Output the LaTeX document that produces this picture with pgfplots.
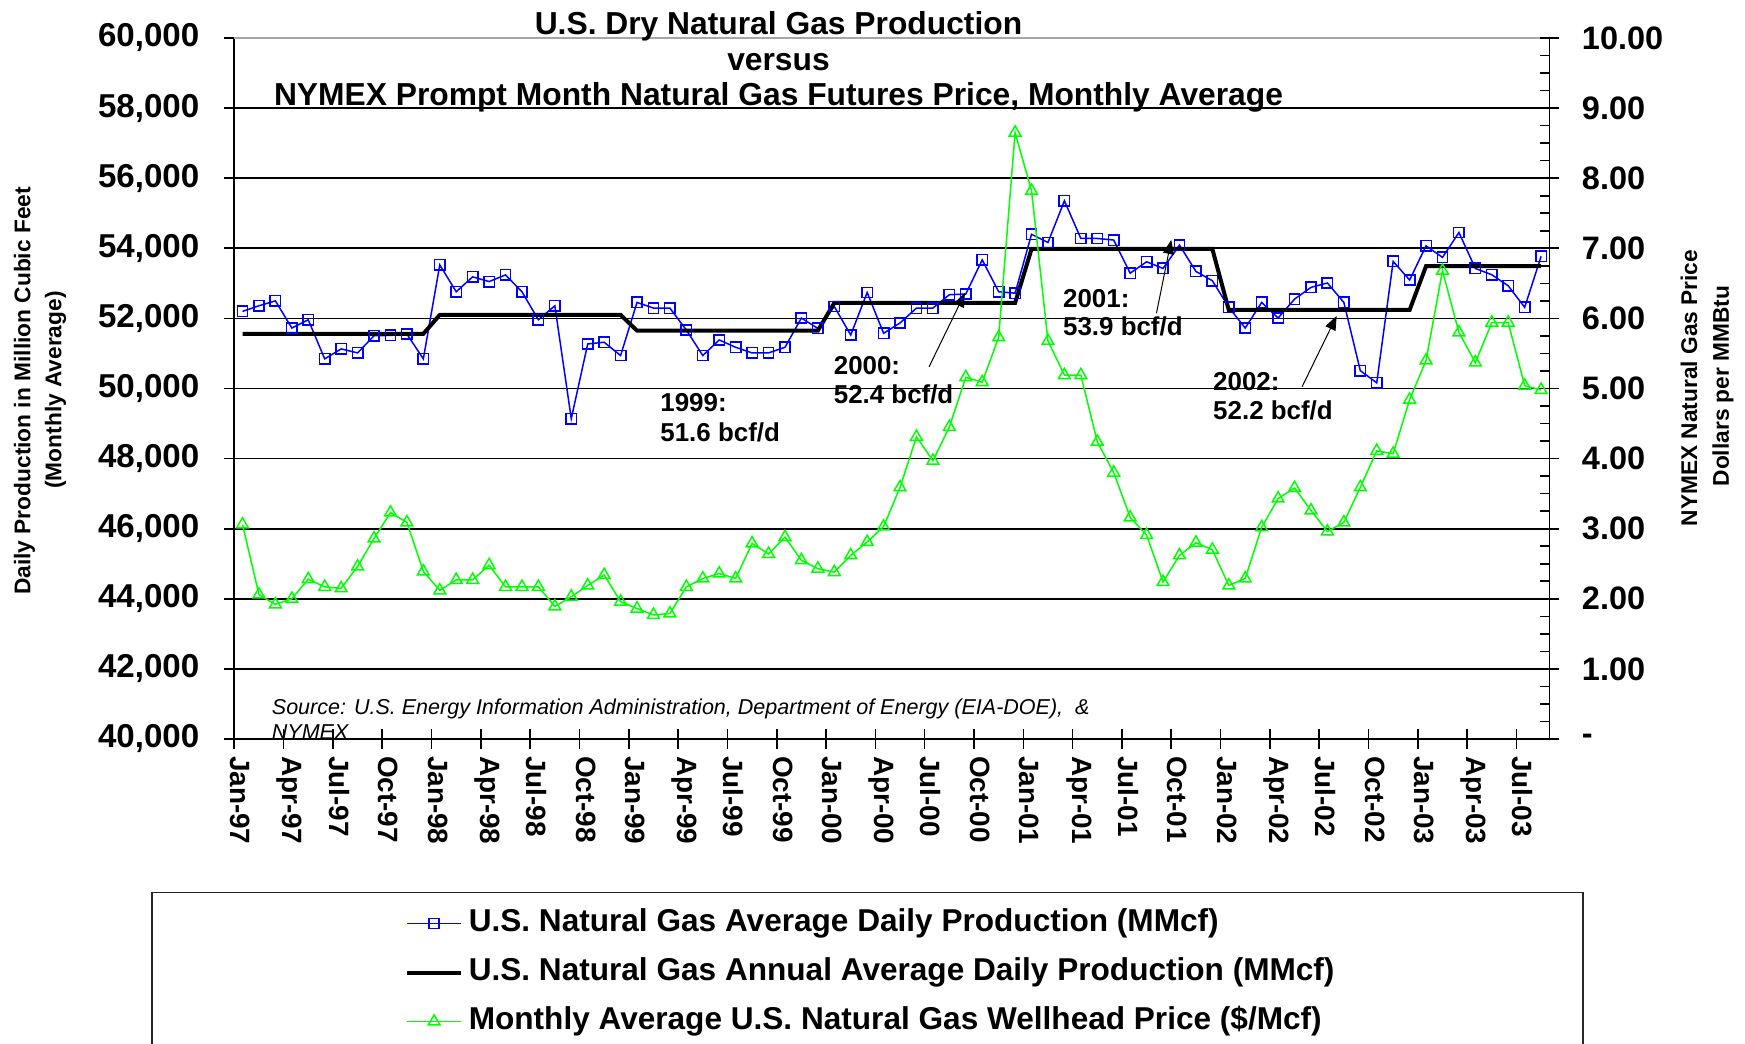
\documentclass[border=0pt]{standalone}
\usepackage{fontspec}
\setmainfont{Liberation Sans}
\usepackage{pgfplots}
\pgfplotsset{compat=1.18}
\usepackage{pgfplotstable}
\usetikzlibrary{arrows.meta}

\pgfplotstableread{
i prod avg price
0 52200 51560 3.06
1 52360 51560 2.06
2 52500 51560 1.92
3 51725 51560 2.00
4 51960 51560 2.28
5 50845 51560 2.17
6 51130 51560 2.15
7 51015 51560 2.46
8 51505 51560 2.86
9 51515 51560 3.23
10 51555 51560 3.09
11 50845 51560 2.39
12 53525 52100 2.12
13 52760 52100 2.27
14 53185 52100 2.27
15 53050 52100 2.48
16 53240 52100 2.17
17 52760 52100 2.17
18 51960 52100 2.17
19 52360 52100 1.89
20 49140 52100 2.03
21 51270 52100 2.19
22 51320 52100 2.34
23 50940 52100 1.96
24 52455 51650 1.86
25 52295 51650 1.77
26 52295 51650 1.79
27 51670 51650 2.17
28 50940 51650 2.29
29 51385 51650 2.36
30 51175 51650 2.29
31 51015 51650 2.79
32 51015 51650 2.64
33 51175 51650 2.88
34 52010 51650 2.55
35 51715 51650 2.43
36 52340 52440 2.38
37 51525 52440 2.62
38 52740 52440 2.81
39 51575 52440 3.03
40 51870 52440 3.59
41 52295 52440 4.31
42 52295 52440 3.97
43 52675 52440 4.45
44 52695 52440 5.16
45 53670 52440 5.09
46 52760 52440 5.73
47 52720 52440 8.65
48 54400 53980 7.82
49 54165 53980 5.68
50 55355 53980 5.19
51 54280 53980 5.19
52 54280 53980 4.24
53 54235 53980 3.80
54 53290 53980 3.16
55 53615 53980 2.91
56 53425 53980 2.24
57 54090 53980 2.62
58 53340 53980 2.80
59 53075 53980 2.70
60 52315 52240 2.19
61 51725 52240 2.29
62 52455 52240 3.02
63 52010 52240 3.43
64 52550 52240 3.58
65 52885 52240 3.26
66 53010 52240 2.96
67 52455 52240 3.09
68 50510 52240 3.59
69 50160 52240 4.11
70 53625 52240 4.07
71 53095 52240 4.84
72 54070 53490 5.40
73 53740 53490 6.68
74 54450 53490 5.80
75 53425 53490 5.37
76 53245 53490 5.94
77 52930 53490 5.94
78 52315 53490 5.04
79 53770 53490 4.98
}\gasdata

\begin{document}
\begin{tikzpicture}
\pgfplotsset{
  legend image code/.code={\draw[mark repeat=2,mark phase=2,#1] plot coordinates {(0bp,0bp) (13.35bp,0bp) (26.7bp,0bp)};},
}
\begin{axis}[
  at={(0,0)}, anchor=south west,
  scale only axis, width=657.5bp, height=350.5bp,
  xmin=-0.5, xmax=79.5, ymin=40000, ymax=60000,
  scaled y ticks=false,
  axis x line*=bottom, axis y line*=left,
  axis line style={black, line width=0.8bp},
  xtick={0,3,...,78},
  xticklabels={Jan-97,Apr-97,Jul-97,Oct-97,Jan-98,Apr-98,Jul-98,Oct-98,Jan-99,Apr-99,Jul-99,Oct-99,Jan-00,Apr-00,Jul-00,Oct-00,Jan-01,Apr-01,Jul-01,Oct-01,Jan-02,Apr-02,Jul-02,Oct-02,Jan-03,Apr-03,Jul-03},
  minor xtick={-0.5,2.5,...,77.5},
  major x tick style={draw=none},
  minor x tick style={black, line width=0.8bp},
  minor tick length=10bp,
  major tick length=10bp,
  tick align=center,
  ytick={40000,42000,...,60000},
  yticklabels={{40,000},{42,000},{44,000},{46,000},{48,000},{50,000},{52,000},{54,000},{56,000},{58,000},{60,000}},
  major y tick style={black, line width=0.8bp},
  ymajorgrids, major grid style={black, line width=0.8bp},
  xticklabel style={rotate=-90, anchor=west, font=\bfseries\fontsize{14}{15}\selectfont, yshift=-1bp},
  yticklabel style={font=\bfseries\fontsize{16.6}{18}\selectfont, xshift=-9bp},
  clip=false,
]
\addplot[blue, line width=0.75bp, mark=square, mark size=2.6bp, mark options={solid, line width=0.75bp}] table[x=i, y=prod] {\gasdata};
\addplot[black, line width=2bp, no marks] table[x=i, y=avg] {\gasdata};
\draw[gray!70, line width=0.8bp] (rel axis cs:0,1) -- (rel axis cs:1,1);
\begin{scope}[font=\bfseries\fontsize{13}{14}\selectfont]
\node[anchor=west, inner sep=0pt] at (axis cs:25.4,49586) {1999:};
\node[anchor=west, inner sep=0pt] at (axis cs:25.4,48759) {51.6 bcf/d};
\node[anchor=west, inner sep=0pt] at (axis cs:35.95,50642) {2000:};
\node[anchor=west, inner sep=0pt] at (axis cs:35.95,49843) {52.4 bcf/d};
\node[anchor=west, inner sep=0pt] at (axis cs:49.9,52573) {2001:};
\node[anchor=west, inner sep=0pt] at (axis cs:49.9,51783) {53.9 bcf/d};
\node[anchor=west, inner sep=0pt] at (axis cs:59.03,50194) {2002:};
\node[anchor=west, inner sep=0pt] at (axis cs:59.03,49366) {52.2 bcf/d};
\end{scope}
\draw[black, line width=0.5bp, -{Triangle[length=7bp,width=5.5bp]}] (axis cs:41.77,50622) -- (axis cs:43.95,52724);
\draw[black, line width=0.5bp, -{Triangle[length=7bp,width=5.5bp]}] (axis cs:55.6,52146) -- (axis cs:56.5,54237);
\draw[black, line width=0.5bp, -{Triangle[length=7bp,width=5.5bp]}] (axis cs:64.46,50051) -- (axis cs:66.56,52068);
\end{axis}

\begin{axis}[
  at={(0,0)}, anchor=south west,
  scale only axis, width=657.5bp, height=350.5bp,
  xmin=-0.5, xmax=79.5, ymin=0, ymax=10,
  axis x line=none, axis y line*=right,
  axis line style={black, line width=0.8bp},
  ytick={0,1,...,10},
  yticklabels={-,1.00,2.00,3.00,4.00,5.00,6.00,7.00,8.00,9.00,10.00},
  minor y tick num=3,
  tick align=center,
  major tick length=9.6bp, minor tick length=4.6bp,
  major y tick style={black, line width=0.8bp},
  minor y tick style={black, line width=0.8bp, xshift=-2.3bp},
  yticklabel style={font=\bfseries\fontsize{16.3}{18}\selectfont, anchor=west, xshift=8bp},
  clip=false,
  legend cell align=left,
  legend style={at={(0.1298,-0.3332)}, anchor=west, draw=none, fill=none, inner sep=0pt,
    font=\bfseries\fontsize{15.85}{18}\selectfont, row sep=8bp, column sep=2bp,
    nodes={inner sep=1bp, text height=11bp, text depth=3.5bp}},
]
\addlegendimage{blue, line width=0.75bp, mark=square, mark size=2.5bp, mark options={solid}}
\addlegendentry{U.S. Natural Gas Average Daily Production (MMcf)}
\addlegendimage{black, line width=2bp}
\addlegendentry{U.S. Natural Gas Annual Average Daily Production (MMcf)}
\addplot[green, line width=0.75bp, mark=triangle, mark size=3.4bp, mark options={solid, line width=0.75bp}] table[x=i, y=price] {\gasdata};
\addlegendentry{Monthly Average U.S. Natural Gas Wellhead Price (\$/Mcf)}
\end{axis}

\begin{scope}[x=0.5bp, y=-0.5bp, shift={(-234.3,-739)}]
\begin{scope}[font=\bfseries\fontsize{15.95}{18}\selectfont]
\node[anchor=base] at (778.5,35) {U.S. Dry Natural Gas Production};
\node[anchor=base] at (778.5,70.5) {versus};
\node[anchor=base] at (778.5,106) {NYMEX Prompt Month Natural Gas Futures Price, Monthly Average};
\end{scope}
\begin{scope}[font=\bfseries\fontsize{11.4}{13}\selectfont]
\node[rotate=90] at (24.5,391) {Daily Production in Million Cubic Feet};
\node[rotate=90] at (55.6,390) {(Monthly Average)};
\node[rotate=90] at (1689,388) {NYMEX Natural Gas Price};
\node[rotate=90] at (1723,386) {Dollars per MMBtu};
\end{scope}
\begin{scope}[font=\itshape\fontsize{10.8}{12}\selectfont]
\node[anchor=base west, inner sep=0pt] at (271.5,714) {Source: U.S. Energy Information Administration, Department of Energy (EIA-DOE), \ \&};
\node[anchor=base west, inner sep=0pt] at (271.5,739) {NYMEX};
\end{scope}
\draw[black!85, line width=0.9bp] (152,892.5) rectangle (1583,1080);
\pgfresetboundingbox
\path[use as bounding box] (0,0) rectangle (1745,1043);
\end{scope}
\end{tikzpicture}
\end{document}
